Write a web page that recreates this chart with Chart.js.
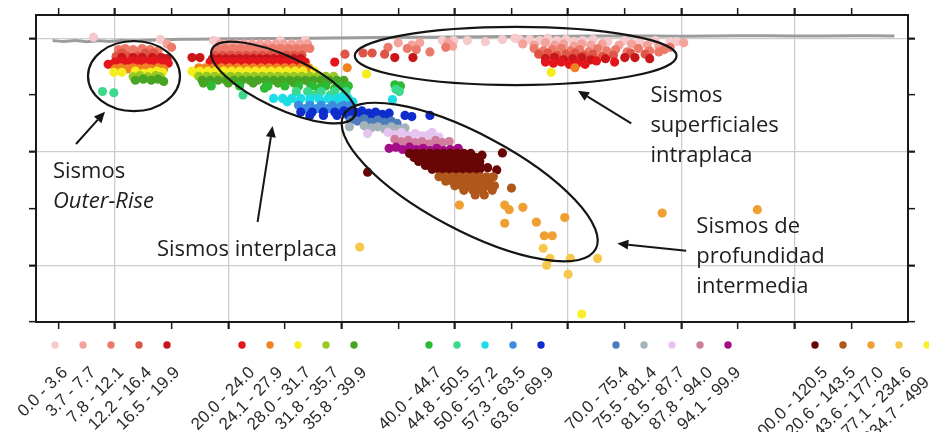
<!DOCTYPE html>
<html><head><meta charset="utf-8">
<script src="https://cdn.jsdelivr.net/npm/chart.js@4/dist/chart.umd.min.js"></script>
<style>html,body{margin:0;padding:0;background:#fff;overflow:hidden}#wrap{width:929px;height:432px}</style>
</head><body><div id="wrap"><canvas id="c" width="929" height="432"></canvas></div>
<script>
// ---- depth classes (legend) ----
const depthLabels = ['0.0 - 3.6','3.7 - 7.7','7.8 - 12.1','12.2 - 16.4','16.5 - 19.9',
  '20.0 - 24.0','24.1 - 27.9','28.0 - 31.7','31.8 - 35.7','35.8 - 39.9',
  '40.0 - 44.7','44.8 - 50.5','50.6 - 57.2','57.3 - 63.5','63.6 - 69.9',
  '70.0 - 75.4','75.5 - 81.4','81.5 - 87.7','87.8 - 94.0','94.1 - 99.9',
  '100.0 - 120.5','120.6 - 143.5','143.6 - 177.0','177.1 - 234.6','234.7 - 499.4'];
const depthUpper = [3.6,7.7,12.1,16.4,19.9,24.0,27.9,31.7,35.7,39.9,44.7,50.5,57.2,63.5,69.9,75.4,81.4,87.7,94.0,99.9,120.5,143.5,177.0,234.6,499.4];
const depthColors = ['#f6c9cb','#f3a29c','#ec7a6a','#df5444','#c8161a','#e4161c','#ef8222','#f5ee1c','#98c824','#48a424',
  '#2cbc34','#3cd88c','#1cdde6','#3e8ce0','#0f2ccc','#4c7cbc','#a4b2ba','#e6c4f0','#d07c9c','#a40c88',
  '#680606','#b0581c','#f0a032','#f8c84c','#f8f02c'];

// ---- axis ticks ----
const xTickValues = [0,50,100,150,200,250,300,350,400,450,500,550,600,650,700];
const yTickValues = [0,50,100,150,200,250];

// ---- topography profile [distance km, depth km] ----
const topography = [[-5,2],[5,2.8],[15,2],[25,3],[35,2.2],[45,2.8],[55,2],[70,2.2],[85,1.5],[100,1],[120,0.8],[150,0.5],[180,0.2],[220,0],[260,-0.5],[300,-0.8],[350,-1.2],[400,-1.5],[450,-1.8],[500,-2],[550,-1.8],[600,-2.2],[650,-2],[700,-2.2],[738,-2]];

// ---- earthquakes [distance km, depth km] ----
const outerRise = [[53,10],[59,9],[66,10],[74,9],[81,10],[88,11],[56,13],[63,12],[70,12],[77,13],[84,13],
 [51,16],[56,17],[61,16],[66,17],[70,16],[74,17],[78,16],[83,17],[87,16],[91,17],[96,18],
 [50,21],[55,20],[60,21],[65,20],[69,21],[74,20],[79,21],[84,20],[88,21],[93,21],[97,22],
 [53,24],[58,23],[63,24],[68,23],[73,24],[78,23],[83,24],[88,23],[92,24],[44,23],
 [50,27],[55,26],[61,27],[66,26],[71,27],[77,26],[82,27],[88,26],[93,27],
 [49,30],[56,30],[68,29],[75,31],[81,30],[87,29],[92,30],
 [66,34],[72,33],[79,34],[86,33],[90,34],
 [68,37],[75,36],[82,37],[88,36],[93,38],
 [39,47],[49,48]];

const interplateUpper = [[137,2],[196,2],[218,2],
 [143,5],[150,5],[157,5],[164,5],[171,5],[178,5],[185,5],[192,5],[199,5],[206,5],[213,5],[220,5],
 [140,9],[147,9],[154,9],[161,9],[168,9],[175,9],[182,9],[189,9],[196,9],[203,9],[210,9],[217,9],[222,9],
 [144,12],[151,12],[158,12],[165,12],[172,12],[179,12],[186,12],[193,12],[200,12],[207,12],[214,12],
 [138,15],[145,15],[152,15],[159,15],[166,15],[173,15],[180,15],[187,15],[194,15],[201,15],[208,15],[215,15],
 [136,18],[142,18],[148,18],[154,18],[160,18],[166,18],[172,18],[178,18],[184,18],[190,18],[196,18],[202,18],[208,18],[214,18],
 [134,21],[140,21],[146,21],[152,21],[158,21],[164,21],[170,21],[176,21],[182,21],[188,21],[194,21],[200,21],[206,21],[212,21],[218,21],
 [137,23.5],[144,23.5],[151,23.5],[158,23.5],[165,23.5],[172,23.5],[179,23.5],[186,23.5],[193,23.5],[200,23.5],[207,23.5],[214,23.5],
 [118,17],[125,17],[244,21],[253,14]];

const interplateMid = [[124,26],[130,26],[137,26],[144,26],[151,26],[158,26],[165,26],[172,26],[179,26],[186,26],[193,26],[200,26],[207,26],[214,26],[221,26],[255,26],
 [118,29],[125,29],[132,29],[139,29],[146,29],[153,29],[160,29],[167,29],[174,29],[181,29],[188,29],[195,29],[202,29],[209,29],[216,29],[226,29],
 [121,31],[135,31],[149,31],[163,31],[177,31],[191,31],[205,31],[272,31.5],
 [124,33.5],[131,33.5],[138,33.5],[145,33.5],[152,33.5],[159,33.5],[166,33.5],[173,33.5],[180,33.5],[187,33.5],[194,33.5],[201,33.5],[208,33.5],[215,33.5],[222,33.5],[229,33.5],[236,33.5],[243,33.5],
 [127,37],[134,37],[141,37],[148,37],[155,37],[162,37],[169,37],[176,37],[183,37],[190,37],[197,37],[204,37],[211,37],[218,37],[225,37],[232,37],[239,37],[246,37],[252,37],
 [128,39.5],[150,39.5],[172,39.5],[194,39.5],[208,39.5],[222,39.5],[236,39.5],[250,39.5],
 [135,42],[160,42],[185,42],[200,42],[212,42],[224,42],[236,42],[248,42],[256,42],
 [182,44],[230,44],[244,44],[254,44]];

const interplateDeep = [[210,47],[220,47],[232,47],[244,47],[254,47],
 [163,50],[226,50],[240,50],[252,50],
 [190,53],[198,53],[206,53],[214,53],[222,53],[230,53],[238,53],[246,53],[254,53],
 [202,56],[212,56],[222,56],[232,56],[242,56],[250,56],[258,56],
 [212,59],[222,59],[232,59],[242,59],[252,59],[258,59],
 [218,62],[228,62],[238,62],[248,62],[256,62],
 [214,65],[224,65],[234,65],[244,65],[254,65],
 [222,68],[234,68],[246,68],[256,68],
 [297,41],[302,42],[298,45],[301,47],[295,54]];

const intraplate = [[361,2],[377,3],[392,1],[403,0],[407,1],[416,1],[425,2],[432,0],[440,2],[448,1],[455,3],[463,2],[472,1],[485,3],[500,2],[513,3],[527,2],[540,3],[546,3],[349,2],[339,2],[31,-1],[90,1],[140,3],
 [300,4],[319,4],[312,6],[344,4],[348,7],[410,5],[420,6],[430,4],[438,6],[446,5],[455,7],[462,5],[470,6],[480,5],[495,6],[506,5],[520,6],[530,7],[552,4],[96,5],
 [291,8],[308,9],[316,10],[328,12],[342,8],[420,9],[428,11],[436,10],[444,9],[452,11],[460,10],[468,12],[476,9],[484,11],[492,10],[502,12],[512,9],[522,11],[535,10],[540,8],[530,12],[100,8],
 [269,13],[277,13],[288,14],[424,14],[432,13],[440,15],[448,14],[456,13],[464,15],[472,14],[480,16],[490,15],[505,13],[518,14],
 [297,17],[313,17],[430,18],[438,17],[446,19],[454,18],[462,17],[470,19],[483,18],[500,17],[509,17],[522,18],
 [430,21],[437,22],[444,21],[451,23],[458,22],[465,23],[475,20],[491,21],
 [456,26],[435,30]];

const intermediateUpper = [[250,52],[256,53],[248,56],[254,57],[260,56],[250,60],[257,61],[252,64],[259,64],
 [262,65],[268,64],[274,66],[280,65],[286,67],[265,68],[271,69],[277,68],[283,69],[289,69],[292,66],[306,68],[312,69],[328,68],
 [258,72],[264,73],[270,71],[276,74],[282,72],[288,74],[294,73],[299,75],
 [257,78],[270,77],[276,79],[282,78],[288,80],[294,78],[300,80],[306,79],
 [273,84],[291,83],[297,85],[303,83],[309,86],[315,84],[321,86],[327,85],[330,83],[336,87],
 [297,89],[303,91],[309,90],[315,92],[321,91],[327,93],[333,90],[339,92],[345,91],[310,93],[322,94],[334,94],
 [292,97],[298,96],[304,98],[310,96],[316,98],[322,97],[328,99],[334,97],[340,99],[346,98],[353,97]];

const intermediateLower = [[310,101.5],[316,101.5],[322,101.5],[328,101.5],[334,101.5],[340,101.5],[346,101.5],[352,101.5],[358,101.5],[364,101.5],
 [314,105],[320,105],[326,105],[332,105],[338,105],[344,105],[350,105],[356,105],[362,105],[368,105],
 [318,108.5],[324,108.5],[330,108.5],[336,108.5],[342,108.5],[348,108.5],[354,108.5],[360,108.5],[366,108.5],[372,108.5],
 [324,112],[330,112],[336,112],[342,112],[348,112],[354,112],[360,112],[366,112],[372,112],
 [330,115.5],[336,115.5],[342,115.5],[348,115.5],[354,115.5],[360,115.5],[366,115.5],[372,115.5],
 [338,119],[344,119],[350,119],[356,119],[362,119],[368,119],
 [374,103],[392,101],[379,114],[387,116],[273,118],
 [336,122],[342,122],[348,122],[354,122],[360,122],[366,122],[372,122],[378,122],[384,122],
 [342,126],[348,126],[354,126],[360,126],[366,126],[372,126],[380,126],
 [350,130],[356,130],[362,130],[370,130],[378,130],[385,130],
 [358,134],[366,134],[374,134],[383,134],[400,132],
 [368,138],[376,138]];

const deepScattered = [[354,147],[394,147],[398,151],[410,149],[394,163],[422,162],[447,158],[429,174],[436,174],
 [428,185],[434,194],[452,194],[431,200],[476,194],[450,208],[266,184],[533,154],[617,151],[462,243]];

// ---- build datasets by depth class ----
const allQuakes = [].concat(outerRise, interplateUpper, interplateMid, interplateDeep, intraplate, intermediateUpper, intermediateLower, deepScattered);
function classOf(d){ for (let i=0;i<depthUpper.length;i++){ if (d<=depthUpper[i]) return i; } return depthUpper.length-1; }
const binned = depthLabels.map(()=>[]);
allQuakes.forEach(([x,d]) => binned[classOf(d)].push({x:x, y:d}));

const datasets = [{
  type:'line', label:'topografía', data: topography.map(([x,y])=>({x,y})),
  borderColor:'#9c9c9c', borderWidth:3, pointRadius:0, tension:0.3, order:1000
}];
depthLabels.forEach((lab,i)=>{
  datasets.push({type:'scatter', label:lab, data:binned[i], backgroundColor:depthColors[i],
    pointRadius:4.6, pointBorderWidth:0, borderWidth:0, pointHoverRadius:4.6, order:-i});
});

// ---- annotation geometry (km) ----
const ellipses = [
  {cx:66.8, cy:33.3, rx:40.6, ry:30.9, rot:0},
  {cx:198.6, cy:39, rx:69.5, ry:23, rot:25},
  {cx:403.7, cy:15.6, rx:142, ry:25.6, rot:0},
  {cx:363.1, cy:126.7, rx:126, ry:42.3, rot:28}
];
const arrows = [
  [[15.6,93.2],[41.2,64.7]],
  [[175.9,161.8],[189.1,77.4]],
  [[505.7,75],[458.6,46.2]],
  [[554.2,187.3],[493.4,180.8]]
];
const notes = [
  {t:'Sismos', x:-4.7, y:123.2, it:false},
  {t:'Outer-Rise', x:-4.7, y:149.7, it:true},
  {t:'Sismos interplaca', x:87, y:192, it:false},
  {t:'Sismos', x:522.6, y:56.2, it:false},
  {t:'superficiales', x:522.6, y:82.7, it:false},
  {t:'intraplaca', x:522.6, y:109.2, it:false},
  {t:'Sismos de', x:563.2, y:171.7, it:false},
  {t:'profundidad', x:563.2, y:198.2, it:false},
  {t:'intermedia', x:563.2, y:224.7, it:false}
];

const annotPlugin = {
  id:'annot',
  afterDatasetsDraw(chart){
    const ctx = chart.ctx, xs = chart.scales.x, ys = chart.scales.y;
    const kx = Math.abs(xs.getPixelForValue(100)-xs.getPixelForValue(0))/100;
    const ky = Math.abs(ys.getPixelForValue(100)-ys.getPixelForValue(0))/100;
    ctx.save();
    ctx.strokeStyle = '#151515'; ctx.lineWidth = 2.2;
    ellipses.forEach(e=>{
      ctx.beginPath();
      ctx.ellipse(xs.getPixelForValue(e.cx), ys.getPixelForValue(e.cy), e.rx*kx, e.ry*ky, e.rot*Math.PI/180, 0, Math.PI*2);
      ctx.stroke();
    });
    ctx.fillStyle = '#151515'; ctx.lineWidth = 2;
    arrows.forEach(([a,b])=>{
      const x1=xs.getPixelForValue(a[0]), y1=ys.getPixelForValue(a[1]);
      const x2=xs.getPixelForValue(b[0]), y2=ys.getPixelForValue(b[1]);
      const ang = Math.atan2(y2-y1, x2-x1), L=11, W=5;
      const bx = x2 - L*Math.cos(ang), by = y2 - L*Math.sin(ang);
      ctx.beginPath(); ctx.moveTo(x1,y1); ctx.lineTo(bx,by); ctx.stroke();
      ctx.beginPath(); ctx.moveTo(x2,y2);
      ctx.lineTo(bx + W*Math.sin(ang), by - W*Math.cos(ang));
      ctx.lineTo(bx - W*Math.sin(ang), by + W*Math.cos(ang));
      ctx.closePath(); ctx.fill();
    });
    ctx.fillStyle = '#1e1e1e'; ctx.textAlign='left'; ctx.textBaseline='alphabetic';
    notes.forEach(n=>{
      ctx.font = (n.it?'italic ':'') + '22px "Open Sans"';
      ctx.fillText(n.t, xs.getPixelForValue(n.x), ys.getPixelForValue(n.y));
    });
    ctx.restore();
  },
  afterDraw(chart){
    // depth-class legend under the plot
    const ctx = chart.ctx;
    const groupStarts = [55,242,429,616,815], step = 28, dotY = 345;
    ctx.save();
    depthLabels.forEach((lab,i)=>{
      const x = groupStarts[Math.floor(i/5)] + (i%5)*step;
      ctx.fillStyle = depthColors[i];
      ctx.beginPath(); ctx.arc(x, dotY, 3.7, 0, Math.PI*2); ctx.fill();
      ctx.save();
      ctx.translate(x+4, 364);
      ctx.rotate(-45*Math.PI/180);
      ctx.fillStyle = '#2a2a2a';
      ctx.font = '17px "Liberation Sans", Arial, sans-serif';
      ctx.textAlign = 'right'; ctx.textBaseline = 'top';
      ctx.fillText(lab, 0, 0);
      ctx.restore();
    });
    ctx.restore();
  }
};

const X_MIN = -19.7, X_MAX = 750, Y_MIN = -20.5, Y_MAX = 250;
const frame = {display:true, color:'#1a1a1a', width:2};
const setTicks = vals => (s => { s.ticks = vals.map(v=>({value:v})); });
const xGrid = (onArea) => ({
  drawOnChartArea: onArea,
  color: c => (c.tick && ((c.tick.value-50)%100===0)) ? '#cdcdcd' : 'rgba(0,0,0,0)',
  lineWidth: 1.3, tickColor:'#1a1a1a', tickLength:7,
  tickWidth: c => (c.tick && ((c.tick.value-50)%100===0)) ? 2.2 : 1.5
});
const yGrid = (onArea) => ({
  drawOnChartArea: onArea,
  color: c => (c.tick && (c.tick.value%100===0) && c.tick.value<250) ? '#cdcdcd' : 'rgba(0,0,0,0)',
  lineWidth: 1.3, tickColor:'#1a1a1a', tickLength:7,
  tickWidth: c => (c.tick && (c.tick.value%100===0)) ? 2.2 : 1.5
});

new Chart(document.getElementById('c'), {
  type:'scatter',
  data:{datasets},
  options:{
    responsive:false, animation:false, devicePixelRatio:1,
    layout:{padding:0},
    plugins:{legend:{display:false}, tooltip:{enabled:false}},
    scales:{
      x:{type:'linear', position:'bottom', min:X_MIN, max:X_MAX, afterBuildTicks:setTicks(xTickValues),
         ticks:{display:false}, grid:xGrid(true), border:frame, afterFit:s=>{s.height=110;}},
      xTop:{type:'linear', position:'top', min:X_MIN, max:X_MAX, afterBuildTicks:setTicks(xTickValues),
         ticks:{display:false}, grid:xGrid(false), border:frame, afterFit:s=>{s.height=15;}},
      y:{type:'linear', position:'left', reverse:true, min:Y_MIN, max:Y_MAX, afterBuildTicks:setTicks(yTickValues),
         ticks:{display:false}, grid:yGrid(true), border:frame, afterFit:s=>{s.width=36;}},
      yRight:{type:'linear', position:'right', reverse:true, min:Y_MIN, max:Y_MAX, afterBuildTicks:setTicks(yTickValues),
         ticks:{display:false}, grid:yGrid(false), border:frame, afterFit:s=>{s.width=21;}}
    }
  },
  plugins:[annotPlugin]
});
</script></body></html>
